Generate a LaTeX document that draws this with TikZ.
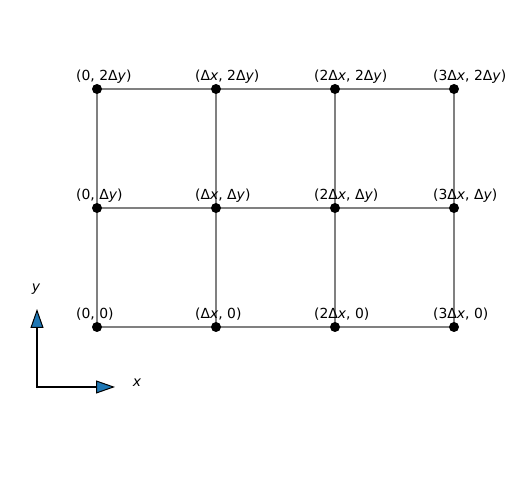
\documentclass[tikz,border=0pt]{standalone}
\usepackage{fontspec}
\setmainfont{DejaVu Sans}
\usetikzlibrary{arrows.meta}
\definecolor{mplblue}{HTML}{1F77B4}
\tikzset{
	gridpt/.style={circle,fill=black,inner sep=0pt,minimum size=10pt},
	gridline/.style={draw=gray,line width=2pt},
	ptlabel/.style={anchor=base west,inner sep=0pt,font=\fontsize{13.9}{16}\selectfont},
	axisline/.style={line width=2pt,{Triangle[length=19pt,width=13pt,line width=1pt,fill=mplblue]}-{Triangle[length=19pt,width=13pt,line width=1pt,fill=mplblue]}},
	axislabel/.style={inner sep=0pt,font=\fontsize{13.9}{16}\selectfont\itshape}
}

\begin{document}
\begin{tikzpicture}[x=1pt,y=1pt]
	\useasboundingbox (0,0) rectangle (515,482);
	% grid points
	\foreach \i in {0,...,3}
	\foreach \j in {0,...,2}
	\coordinate (c-\i-\j) at (97+119*\i,155+119*\j);
	% grid lines
	\foreach \j in {0,1,2}
	\draw[gridline] (c-0-\j) -- (c-3-\j);
	\foreach \i in {0,...,3}
	\draw[gridline] (c-\i-0) -- (c-\i-2);
	% dots and labels
	\foreach \i/\xt in {0/0,1/Δ\textit{x},2/2Δ\textit{x},3/3Δ\textit{x}}
	\foreach \j/\yt in {0/0,1/Δ\textit{y},2/2Δ\textit{y}}
	{
		\node[gridpt] (dot-\i-\j) at (c-\i-\j) {};
		\node[ptlabel] (lbl-\i-\j) at ([shift={(-21,8.5)}]c-\i-\j) {(\xt, \yt)};
	}
	% axes
	\coordinate (o) at (37,95);
	\coordinate (xend) at (115,95);
	\coordinate (yend) at (37,173);
	\draw[axisline] (yend) -- (o) -- (xend);
	\node[axislabel] (xlbl) at (137,99) {x};
	\node[axislabel] (ylbl) at (36,193) {y};
\end{tikzpicture}
\end{document}
